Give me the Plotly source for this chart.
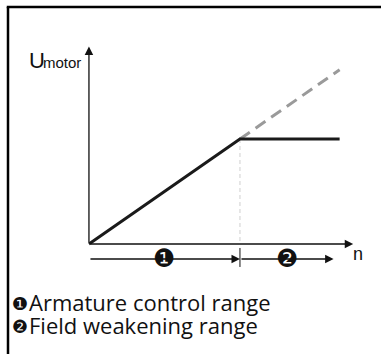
import plotly.graph_objects as go

# Motor voltage characteristic (normalised: rated speed = 1, rated voltage = 1)
speed_solid = [0, 1, 1.66]
voltage_solid = [0, 1, 1]
speed_ext = [1, 1.66]
voltage_ext = [1, 1.66]

# Axis extents and range markers (same normalised units)
n_axis_end = 1.75
u_axis_end = 1.88
range_row_u = -0.143
range_bounds = [0, 1, 1.62]
range_marks = ["\u2776", "\u2777"]
legend_lines = ["Armature control range", "Field weakening range"]

W, H = 381, 354
X_RANGE = [-0.589, 1.934]
Y_RANGE = [-1.048, 2.324]

fig = go.Figure()

# light dashed guide at rated speed
fig.add_trace(go.Scatter(
    x=[1, 1], y=[1, 0], mode="lines",
    line=dict(color="#cfcfcf", width=1, dash="4px,3px"), hoverinfo="skip"))

# extrapolated armature voltage (grey dashed)
fig.add_trace(go.Scatter(
    x=speed_ext, y=voltage_ext, mode="lines",
    line=dict(color="#9a9a9a", width=3, dash="12px,7px"), hoverinfo="skip"))

# actual motor voltage
fig.add_trace(go.Scatter(
    x=speed_solid, y=voltage_solid, mode="lines",
    line=dict(color="#1a1a1a", width=3), hoverinfo="skip"))

anns = []

def arrow(x0, y0, x1, y1, width=1.3):
    anns.append(dict(x=x1, y=y1, ax=x0, ay=y0, xref="x", yref="y",
                     axref="x", ayref="y", text="", showarrow=True,
                     arrowhead=2, arrowsize=1.3, arrowwidth=width,
                     arrowcolor="#111111", standoff=0, startstandoff=0))

def label(x, y, text, family, size, xanchor="center"):
    # x, y in pixels from the top-left corner of the figure
    anns.append(dict(x=x / W, y=1 - y / H, xref="paper", yref="paper", text=text,
                     showarrow=False, xanchor=xanchor, yanchor="middle",
                     font=dict(family=family, size=size, color="#111111")))

# axes
arrow(0, 0, 0, u_axis_end)
arrow(0, 0, n_axis_end, 0)

# speed ranges
arrow(range_bounds[0], range_row_u, range_bounds[1], range_row_u)
arrow(range_bounds[1], range_row_u, range_bounds[2], range_row_u)

for i, mark in enumerate(range_marks):
    mid = (range_bounds[i] + range_bounds[i + 1]) / 2
    anns.append(dict(x=mid, y=range_row_u, xref="x", yref="y", text=mark,
                     showarrow=False, xanchor="center", yanchor="middle",
                     font=dict(family="DejaVu Sans", size=25, color="#111111")))

# axis labels
label(37, 60, "U", "Liberation Sans", 22)
label(62, 63, "motor", "Liberation Sans", 15)
label(358, 254, "n", "Liberation Sans", 18)

# legend text
for i, (mark, line) in enumerate(zip(range_marks, legend_lines)):
    yc = 302 + 23 * i
    label(19.5, yc + 1, mark, "DejaVu Sans", 18)
    label(27, yc, line, "Open Sans", 22, xanchor="left")

fig.update_layout(
    width=W, height=H, margin=dict(l=0, r=0, t=0, b=0),
    paper_bgcolor="white", plot_bgcolor="white", showlegend=False,
    xaxis=dict(range=X_RANGE, visible=False, fixedrange=True),
    yaxis=dict(range=Y_RANGE, visible=False, fixedrange=True),
    annotations=anns,
    shapes=[
        dict(type="line", xref="paper", yref="paper", x0=8 / W, y0=-0.01, x1=8 / W, y1=1 - 7 / H,
             line=dict(color="black", width=2.5)),
        dict(type="line", xref="paper", yref="paper", x0=6.75 / W, y0=1 - 7 / H, x1=1.01, y1=1 - 7 / H,
             line=dict(color="black", width=2.5)),
        # tick at the boundary between both ranges
        dict(type="line", xref="x", yref="y", x0=1, x1=1, y0=-0.038, y1=-0.219,
             line=dict(color="#111111", width=1)),
    ],
)

fig.write_html("out.html")
